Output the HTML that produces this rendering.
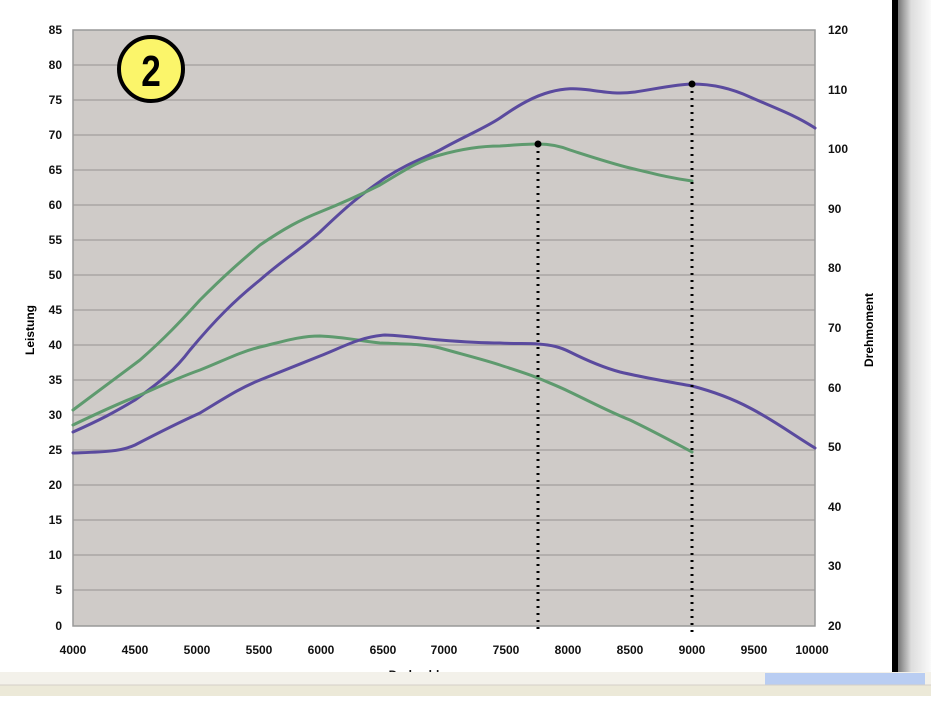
<!DOCTYPE html>
<html><head><meta charset="utf-8"><style>
body{margin:0;width:931px;height:696px;overflow:hidden;background:#fff;font-family:"Liberation Sans",sans-serif}
</style></head><body>
<svg width="931" height="696" viewBox="0 0 931 696" xmlns="http://www.w3.org/2000/svg" font-family="Liberation Sans, sans-serif">
<defs><linearGradient id="g" x1="0" x2="1"><stop offset="0" stop-color="#777"/><stop offset="0.4" stop-color="#ddd"/><stop offset="1" stop-color="#fafafa"/></linearGradient></defs>
<rect x="73" y="30" width="742" height="596" fill="#cfcbc8"/>
<g stroke="#aaa6a4" stroke-width="1.5">
<line x1="73" x2="815" y1="65" y2="65"/><line x1="73" x2="815" y1="100" y2="100"/><line x1="73" x2="815" y1="135" y2="135"/><line x1="73" x2="815" y1="170" y2="170"/><line x1="73" x2="815" y1="205" y2="205"/><line x1="73" x2="815" y1="240" y2="240"/><line x1="73" x2="815" y1="275" y2="275"/><line x1="73" x2="815" y1="310" y2="310"/><line x1="73" x2="815" y1="345" y2="345"/><line x1="73" x2="815" y1="380" y2="380"/><line x1="73" x2="815" y1="415" y2="415"/><line x1="73" x2="815" y1="450" y2="450"/><line x1="73" x2="815" y1="485" y2="485"/><line x1="73" x2="815" y1="520" y2="520"/><line x1="73" x2="815" y1="555" y2="555"/><line x1="73" x2="815" y1="590" y2="590"/>
</g>
<rect x="73" y="30" width="742" height="596" fill="none" stroke="#999" stroke-width="1.5"/>
<g font-size="12" font-weight="bold" fill="#111" text-anchor="end">
<text x="62" y="34">85</text><text x="62" y="69">80</text><text x="62" y="104">75</text><text x="62" y="139">70</text><text x="62" y="174">65</text><text x="62" y="209">60</text><text x="62" y="244">55</text><text x="62" y="279">50</text><text x="62" y="314">45</text><text x="62" y="349">40</text><text x="62" y="384">35</text><text x="62" y="419">30</text><text x="62" y="454">25</text><text x="62" y="489">20</text><text x="62" y="524">15</text><text x="62" y="559">10</text><text x="62" y="594">5</text><text x="62" y="630">0</text>
</g>
<g font-size="12" font-weight="bold" fill="#111">
<text x="828" y="34">120</text><text x="828" y="94">110</text><text x="828" y="153">100</text><text x="828" y="213">90</text><text x="828" y="272">80</text><text x="828" y="332">70</text><text x="828" y="392">60</text><text x="828" y="451">50</text><text x="828" y="511">40</text><text x="828" y="570">30</text><text x="828" y="630">20</text>
</g>
<g font-size="12" font-weight="bold" fill="#111" text-anchor="middle">
<text x="73" y="654">4000</text><text x="135" y="654">4500</text><text x="197" y="654">5000</text><text x="259" y="654">5500</text><text x="321" y="654">6000</text><text x="383" y="654">6500</text><text x="444" y="654">7000</text><text x="506" y="654">7500</text><text x="568" y="654">8000</text><text x="630" y="654">8500</text><text x="692" y="654">9000</text><text x="754" y="654">9500</text><text x="812" y="654">10000</text>
<text x="414" y="679">Drehzahl</text>
</g>
<text transform="translate(34,330) rotate(-90)" font-size="12" font-weight="bold" text-anchor="middle">Leistung</text>
<text transform="translate(873,330) rotate(-90)" font-size="12" font-weight="bold" text-anchor="middle">Drehmoment</text>
<g fill="none" stroke-width="3" stroke-linejoin="round" stroke-linecap="round">
<path stroke="#5a4a9e" d="M73,432 C100,420 115,412 135,400 C160,382 175,370 190,350 C215,320 235,300 260,280 C285,258 300,250 320,232 C345,208 360,195 385,178 C410,162 425,158 440,150 C465,136 485,128 500,118 C520,104 535,96 550,92 C565,88 575,88 590,90 C610,93 620,94 635,92 C660,88 680,84 692,84 C715,84 735,90 750,97 C775,108 795,115 815,128"/>
<path stroke="#5e9a6e" d="M73,410 C100,390 120,375 140,360 C165,338 180,322 200,300 C225,275 240,262 260,245 C285,228 300,220 320,212 C345,202 360,195 380,185 C405,170 420,160 440,155 C465,148 485,146 500,146 C515,145 525,144 538,144 C550,144 560,146 570,150 C595,158 610,163 630,168 C655,174 670,178 692,181"/>
<path stroke="#5e9a6e" d="M73,425 C100,412 120,403 140,395 C165,384 180,377 200,370 C225,360 240,352 260,347 C285,341 300,336 320,336 C345,337 360,341 380,343 C405,344 425,344 440,348 C465,355 485,360 500,365 C515,370 528,374 538,378 C552,384 560,387 570,392 C595,404 610,412 630,420 C655,432 675,443 692,452"/>
<path stroke="#5a4a9e" d="M73,453 C100,452 120,452 135,445 C160,432 180,422 200,413 C225,398 240,388 260,380 C285,370 300,364 320,356 C345,346 360,337 385,335 C410,336 425,339 440,340 C465,342 485,343 500,343 C515,344 528,343 538,344 C552,345 560,347 570,352 C590,362 605,368 620,372 C645,378 670,382 692,386 C715,392 735,400 750,408 C775,421 795,436 815,448"/>
</g>
<g stroke="#000" stroke-width="3" stroke-dasharray="2 5">
<line x1="538" y1="144" x2="538" y2="632"/><line x1="692" y1="84" x2="692" y2="632"/>
</g>
<circle cx="538" cy="144" r="3.5"/><circle cx="692" cy="84" r="3.5"/>
<circle cx="151" cy="69" r="32" fill="#fbf56a" stroke="#000" stroke-width="4"/>
<text x="151" y="86" font-size="44" font-weight="bold" text-anchor="middle" transform="translate(151,0) scale(0.8,1) translate(-151,0)">2</text>
<rect x="892" y="0" width="6" height="672" fill="#000"/>
<rect x="898" y="0" width="33" height="672" fill="url(#g)"/>
<rect x="0" y="672" width="931" height="13" fill="#f3f1ea"/>
<rect x="765" y="673" width="160" height="12" fill="#b9cdf2"/>
<rect x="0" y="685" width="931" height="11" fill="#ece9d8"/>
<line x1="0" y1="685" x2="931" y2="685" stroke="#d4d0c8"/>
</svg>
</body></html>
